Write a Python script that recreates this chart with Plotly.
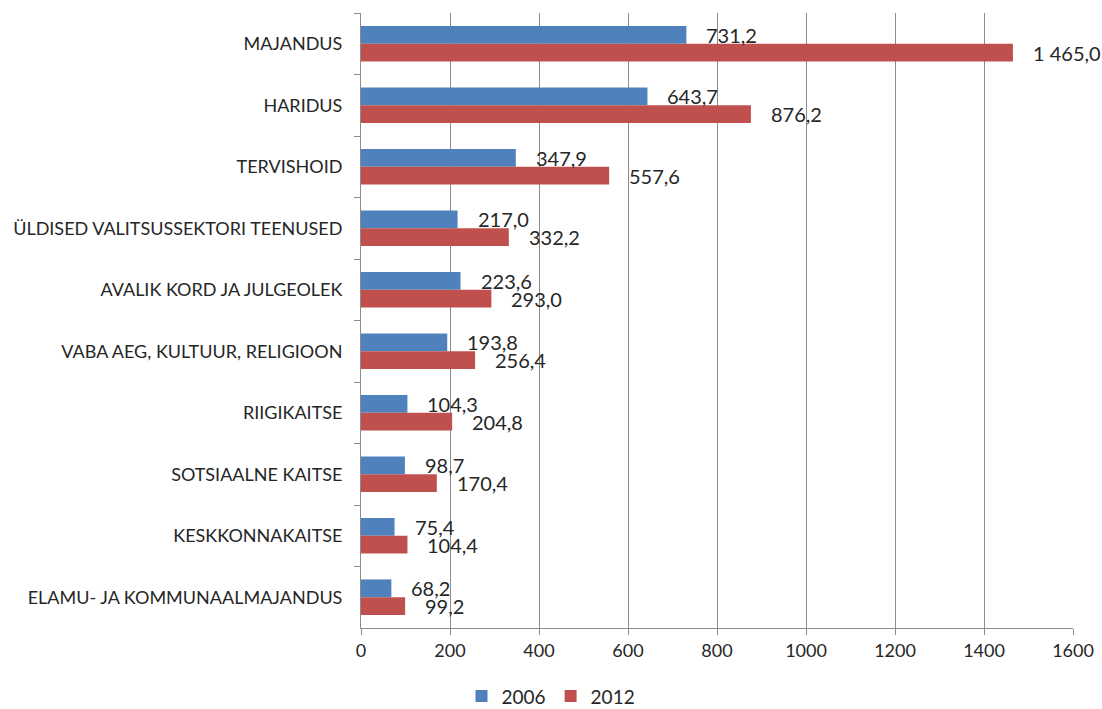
import plotly.graph_objects as go

categories = [
    "MAJANDUS",
    "HARIDUS",
    "TERVISHOID",
    "ÜLDISED VALITSUSSEKTORI TEENUSED",
    "AVALIK KORD JA JULGEOLEK",
    "VABA AEG, KULTUUR, RELIGIOON",
    "RIIGIKAITSE",
    "SOTSIAALNE KAITSE",
    "KESKKONNAKAITSE",
    "ELAMU- JA KOMMUNAALMAJANDUS",
]
values_2006 = [731.2, 643.7, 347.9, 217.0, 223.6, 193.8, 104.3, 98.7, 75.4, 68.2]
values_2012 = [1465.0, 876.2, 557.6, 332.2, 293.0, 256.4, 204.8, 170.4, 104.4, 99.2]
x_ticks = [0, 200, 400, 600, 800, 1000, 1200, 1400, 1600]

BLUE = "#4F81BD"
RED = "#C0504D"
FONT = "Lato"
TEXT_COLOR = "#262626"
GRID = "#8C8C8C"
BARGAP = 0.42


def fmt(v):
    # Estonian style: space as thousands separator, comma as decimal mark
    s = f"{v:,.1f}"
    return s.replace(",", " ").replace(".", ",")


fig = go.Figure()
fig.add_trace(go.Bar(y=categories, x=values_2006, name="2006", orientation="h",
                     marker=dict(color=BLUE, line=dict(width=0))))
fig.add_trace(go.Bar(y=categories, x=values_2012, name="2012", orientation="h",
                     marker=dict(color=RED, line=dict(width=0))))

# value labels placed just past the end of each bar
half = (1 - BARGAP) / 4
annotations = []
for i, (a, b) in enumerate(zip(values_2006, values_2012)):
    for v, off in ((a, -half), (b, half)):
        annotations.append(dict(
            x=v, y=i + off, xref="x", yref="y", text=fmt(v),
            showarrow=False, xanchor="left", yanchor="middle", xshift=18,
            font=dict(family=FONT, size=20, color=TEXT_COLOR),
        ))

fig.update_layout(
    width=1102, height=709,
    margin=dict(l=361, r=29, t=13, b=81, autoexpand=False),
    paper_bgcolor="white", plot_bgcolor="white",
    barmode="group", bargap=BARGAP, bargroupgap=0,
    font=dict(family=FONT, size=18, color=TEXT_COLOR),
    annotations=annotations,
    legend=dict(orientation="h", xref="container", yref="container",
                x=0.5, xanchor="center", y=0.018, yanchor="middle",
                font=dict(family=FONT, size=19, color=TEXT_COLOR),
                itemwidth=30, traceorder="normal"),
    showlegend=True,
)
fig.update_xaxes(
    range=[0, 1600], tickvals=x_ticks, ticktext=[str(t) for t in x_ticks],
    showgrid=True, gridcolor=GRID, gridwidth=1,
    showline=True, linecolor=GRID, linewidth=1,
    ticks="outside", ticklen=6, tickcolor=GRID,
    tickfont=dict(family=FONT, size=18, color=TEXT_COLOR),
    zeroline=False, fixedrange=True, automargin=False,
)
fig.update_yaxes(
    type="category", categoryorder="array", categoryarray=categories,
    autorange="reversed", tickson="boundaries",
    showgrid=False, showline=True, linecolor=GRID, linewidth=1,
    ticks="outside", ticklen=6, tickcolor=GRID,
    tickfont=dict(family=FONT, size=18, color=TEXT_COLOR),
    ticklabelstandoff=14, automargin=False,
)

fig.write_html("out.html")
